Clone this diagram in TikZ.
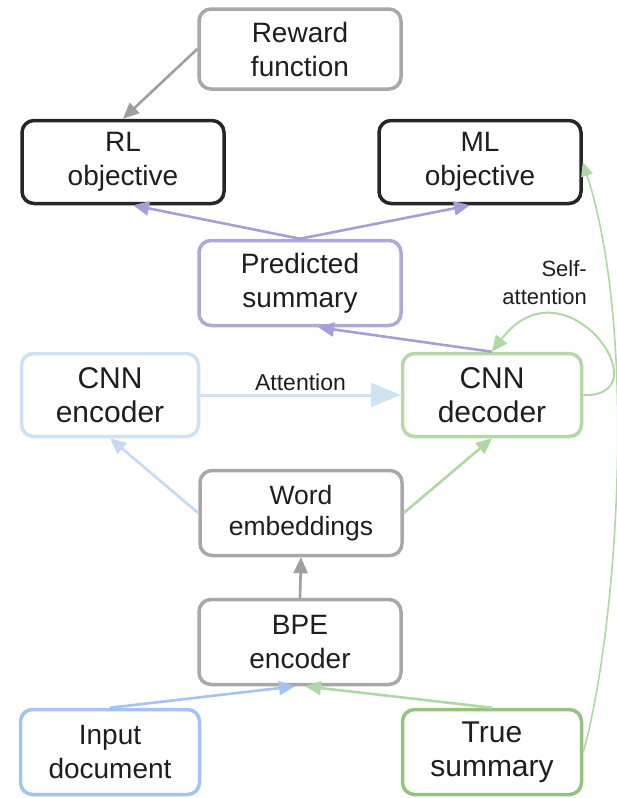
\documentclass[tikz,border=0pt]{standalone}
\usepackage{fontspec}
\setmainfont{Liberation Sans}
\usetikzlibrary{arrows.meta,calc}

\definecolor{cgray}{HTML}{A8A8A8}
\definecolor{cgrayarr}{HTML}{9E9E9E}
\definecolor{cblack}{HTML}{262626}
\definecolor{cpurple}{HTML}{B4A7D6}
\definecolor{cpurplearr}{HTML}{A89DD8}
\definecolor{cenc}{HTML}{CFE2F3}
\definecolor{cencarr}{HTML}{C6D8F2}
\definecolor{cdec}{HTML}{B6D7A8}
\definecolor{cdecarr}{HTML}{B0D8A4}
\definecolor{cinp}{HTML}{A4C2F4}
\definecolor{ctrue}{HTML}{93C47D}
\definecolor{ctext}{HTML}{1E1E1E}

\begin{document}
\begin{tikzpicture}[x=1pt,y=-1pt,
  box/.style={draw, fill=white, text=ctext, rounded corners=12pt, line width=3.5pt,
    minimum width=202pt, minimum height=83pt, inner sep=0pt, align=center,
    font=\fontsize{28}{34}\selectfont},
  bigtext/.style={font=\fontsize{30}{34}\selectfont},
  smalltext/.style={font=\fontsize{26.5}{31}\selectfont},
  conn/.style={line width=2.6pt, -{Triangle[length=16pt,width=14pt]}},
  thinconn/.style={line width=1.6pt, -{Triangle[length=14pt,width=12pt]}},
  bigconn/.style={line width=3pt, -{Triangle[length=30pt,width=24pt]}},
  lbl/.style={inner sep=0pt, text=ctext, font=\fontsize{22}{28}\selectfont}
]
\useasboundingbox (0,0) rectangle (616,798);

% boxes
\node[box, draw=cgray, minimum height=80pt] (rew) at (300,49) {Reward\\function};
\node[box, draw=cblack] (rl) at (123,162) {RL\\objective};
\node[box, draw=cblack] (ml) at (480,162) {ML\\objective};
\node[box, draw=cpurple, minimum height=85pt] (pred) at (300,283) {Predicted\\summary};
\node[box, bigtext, draw=cenc, minimum width=177pt] (enc) at (110,395) {CNN\\encoder};
\node[box, bigtext, draw=cdec, minimum width=179pt] (dec) at (492,395) {CNN\\decoder};
\node[box, draw=cgray, smalltext, minimum height=85pt] (emb) at (301,513) {Word\\embeddings};
\node[box, draw=cgray, minimum height=85pt] (bpe) at (300,642) {BPE\\encoder};
\node[box, draw=cinp, minimum width=179pt, minimum height=85pt] (inp) at (110,752) {Input\\document};
\node[box, bigtext, draw=ctrue, minimum width=179pt, minimum height=85pt] (tru) at (492,752) {True\\summary};

% labels
\node[lbl, anchor=east, align=right] (sa) at (587,283) {Self-\\attention};

% connectors
\draw[conn, cgrayarr] (rew.west) -- (rl.north);
\draw[conn, cpurplearr] (pred.north) -- ($(rl.south)+(10,0)$);
\draw[conn, cpurplearr] (pred.north) -- ($(ml.south)+(-10,0)$);
\draw[conn, cpurplearr] (dec.north) -- ($(pred.south)+(18,0)$);
\draw[conn, cdecarr, line width=2pt] (dec.east) .. controls (665,398) and (565,255) .. (dec.north);
\draw[bigconn, cenc] (enc.east) -- node[lbl, above=3pt, font=\fontsize{23}{28}\selectfont] (att) {Attention} (dec.west);
\draw[conn, cencarr] (emb.west) -- (enc.south);
\draw[conn, cdecarr] (emb.east) -- (dec.south);
\draw[conn, cgrayarr] (bpe.north) -- (emb.south);
\draw[conn, cinp] (inp.north) -- ($(bpe.south)+(-5,0)$);
\draw[conn, cdecarr] (tru.north) -- ($(bpe.south)+(5,0)$);
\draw[thinconn, cdecarr] (tru.east) .. controls (615,640) and (640,340) .. (ml.east);
\end{tikzpicture}
\end{document}
